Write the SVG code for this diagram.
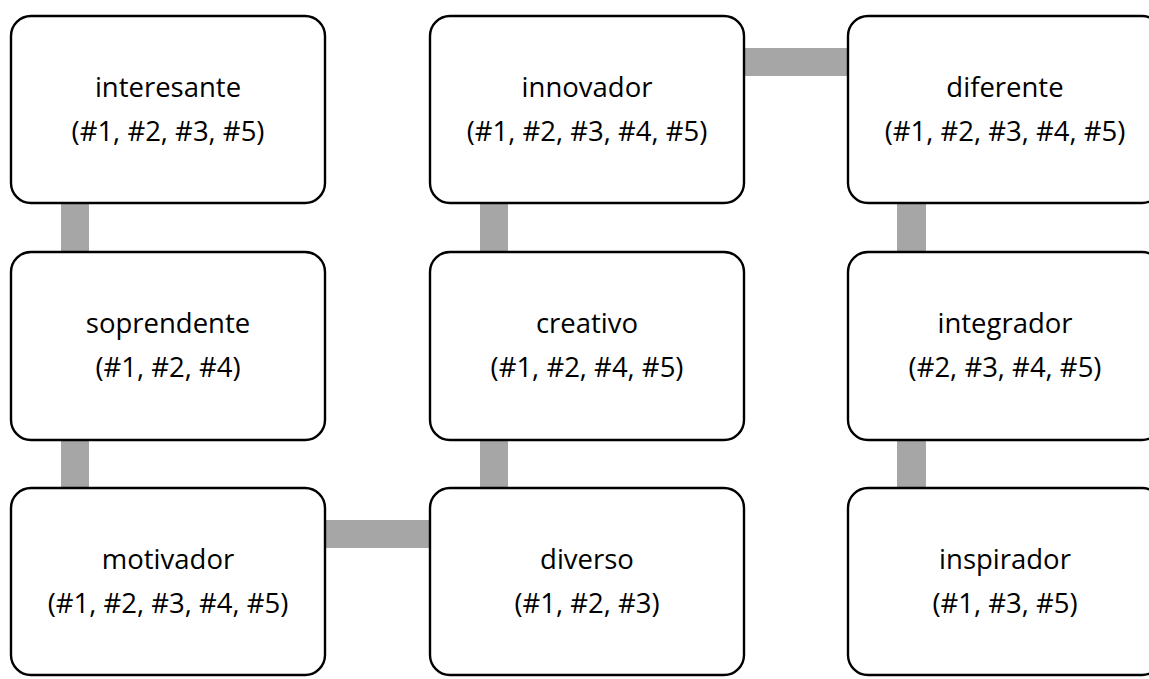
<svg xmlns="http://www.w3.org/2000/svg" width="1149" height="679" viewBox="0 0 1149 679">
  <style>
    .box { fill: #ffffff; stroke: #000000; stroke-width: 2.4; }
    .bar { fill: #A6A6A6; }
    .label { font-family: "Open Sans", "Noto Sans", sans-serif; font-size: 27.5px; fill: #000000; text-anchor: middle; }
  </style>
  <rect width="1149" height="679" fill="#ffffff"/>

  <!-- connectors: thick grey bars joining the boxes in a snake path -->
  <g id="connectors">
    <rect class="bar" x="61" y="200" width="28" height="55"/>
    <rect class="bar" x="61" y="437" width="28" height="54"/>
    <rect class="bar" x="323" y="520" width="110" height="28"/>
    <rect class="bar" x="480" y="437" width="28" height="54"/>
    <rect class="bar" x="480" y="200" width="28" height="55"/>
    <rect class="bar" x="741" y="48" width="110" height="28"/>
    <rect class="bar" x="897" y="200" width="29" height="55"/>
    <rect class="bar" x="897" y="437" width="29" height="54"/>
  </g>

  <g id="interesante">
    <rect class="box" x="11" y="16" width="314" height="187" rx="20"/>
    <text class="label" x="168" y="97">interesante</text>
    <text class="label" x="168" y="141">(#1, #2, #3, #5)</text>
  </g>
  <g id="innovador">
    <rect class="box" x="430" y="16" width="314" height="187" rx="20"/>
    <text class="label" x="587" y="97">innovador</text>
    <text class="label" x="587" y="141">(#1, #2, #3, #4, #5)</text>
  </g>
  <g id="diferente">
    <rect class="box" x="848" y="16" width="314" height="187" rx="20"/>
    <text class="label" x="1005" y="97">diferente</text>
    <text class="label" x="1005" y="141">(#1, #2, #3, #4, #5)</text>
  </g>

  <g id="soprendente">
    <rect class="box" x="11" y="252" width="314" height="188" rx="20"/>
    <text class="label" x="168" y="333">soprendente</text>
    <text class="label" x="168" y="377">(#1, #2, #4)</text>
  </g>
  <g id="creativo">
    <rect class="box" x="430" y="252" width="314" height="188" rx="20"/>
    <text class="label" x="587" y="333">creativo</text>
    <text class="label" x="587" y="377">(#1, #2, #4, #5)</text>
  </g>
  <g id="integrador">
    <rect class="box" x="848" y="252" width="314" height="188" rx="20"/>
    <text class="label" x="1005" y="333">integrador</text>
    <text class="label" x="1005" y="377">(#2, #3, #4, #5)</text>
  </g>

  <g id="motivador">
    <rect class="box" x="11" y="488" width="314" height="187" rx="20"/>
    <text class="label" x="168" y="569">motivador</text>
    <text class="label" x="168" y="613">(#1, #2, #3, #4, #5)</text>
  </g>
  <g id="diverso">
    <rect class="box" x="430" y="488" width="314" height="187" rx="20"/>
    <text class="label" x="587" y="569">diverso</text>
    <text class="label" x="587" y="613">(#1, #2, #3)</text>
  </g>
  <g id="inspirador">
    <rect class="box" x="848" y="488" width="314" height="187" rx="20"/>
    <text class="label" x="1005" y="569">inspirador</text>
    <text class="label" x="1005" y="613">(#1, #3, #5)</text>
  </g>
</svg>
